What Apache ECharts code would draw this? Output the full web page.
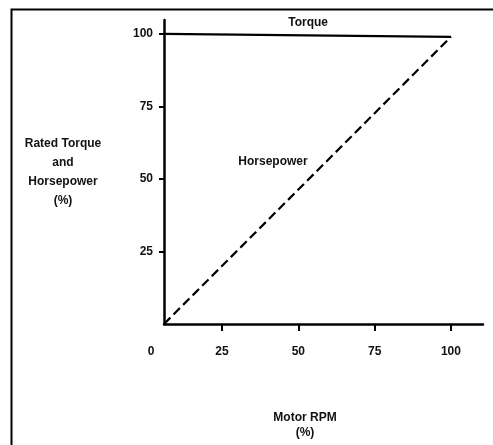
<!DOCTYPE html>
<html>
<head>
<meta charset="utf-8">
<script src="https://cdn.jsdelivr.net/npm/echarts@6/dist/echarts.min.js"></script>
<style>
html,body{margin:0;padding:0;background:#fff;}
#c{width:493px;height:445px;}
</style>
</head>
<body>
<div id="c"></div>
<script>
// Data (x: Motor RPM %, y: Rated torque / horsepower %)
var xStart = 6;            // where the drawn origin sits on the RPM tick scale
var xEnd = 100;
var torqueX = [xStart, xEnd];
var torqueY = [100, 99];
var hpX = [xStart, xEnd];
var hpY = [0, 99];
var xTicks = [25, 50, 75, 100];
var yTicks = [25, 50, 75, 100];
var xName = 'Motor RPM\n(%)';
var yName = 'Rated Torque\nand\nHorsepower\n(%)';
var torqueLabelAt = [53.2, 103.8];
var hpLabelAt = [41.7, 55.9];

var font = "'Liberation Sans', Arial, Helvetica, sans-serif";
function pairs(xs, ys){ return xs.map(function(x,i){ return [x, ys[i]]; }); }

var chart = echarts.init(document.getElementById('c'), null, {renderer:'canvas'});
chart.setOption({
  animation: false,
  backgroundColor: '#fff',
  textStyle: {fontFamily: font},
  graphic: [{
    type: 'rect', left: 9, top: 7,
    shape: {width: 600, height: 600},
    style: {fill: 'none', stroke: '#000', lineWidth: 2},
    silent: true, z: -1
  }],
  grid: {left: 164, right: 10, top: 20, bottom: 121},
  xAxis: {
    type: 'value', min: xStart, max: 110.5,
    splitLine: {show: false},
    axisLine: {lineStyle: {color: '#000', width: 2.5}},
    axisTick: {show: true, customValues: xTicks, length: 7, lineStyle: {color: '#000', width: 2}},
    axisLabel: {
      customValues: [xStart].concat(xTicks), margin: 22,
      formatter: function(v){ return v === xStart ? '{z|0}' : String(v); },
      color: '#111', fontWeight: 'bold', fontSize: 12, fontFamily: font,
      rich: {z: {padding: [0, 26, 0, 0], fontWeight: 'bold', fontSize: 12, color: '#111', fontFamily: font}}
    },
    name: xName, nameLocation: 'middle', nameGap: 86,
    nameTextStyle: {color: '#111', fontWeight: 'bold', fontSize: 12, lineHeight: 15, align: 'center', verticalAlign: 'top', padding: [0, 37, 0, 0], fontFamily: font}
  },
  yAxis: {
    type: 'value', min: 0, max: 104.8,
    splitLine: {show: false},
    axisLine: {lineStyle: {color: '#000', width: 2.5}},
    axisTick: {show: true, customValues: yTicks, length: 5, lineStyle: {color: '#000', width: 2}},
    axisLabel: {customValues: yTicks, margin: 11, color: '#111', fontWeight: 'bold', fontSize: 12, fontFamily: font},
    name: yName, nameLocation: 'middle', nameRotate: 0, nameGap: 101,
    nameTextStyle: {color: '#111', fontWeight: 'bold', fontSize: 12, lineHeight: 19, align: 'center', verticalAlign: 'middle', padding: [0, 0, 14, 0], fontFamily: font}
  },
  series: [{
    name: 'Torque', type: 'line', showSymbol: false, silent: true,
    data: pairs(torqueX, torqueY),
    lineStyle: {color: '#000', width: 2.2},
    markPoint: {
      symbol: 'circle', symbolSize: 0, silent: true,
      label: {show: true, position: 'inside', formatter: 'Torque', color: '#111', fontWeight: 'bold', fontSize: 12, fontFamily: font},
      data: [{coord: torqueLabelAt}]
    }
  }, {
    name: 'Horsepower', type: 'line', showSymbol: false, silent: true,
    data: pairs(hpX, hpY),
    lineStyle: {color: '#000', width: 2.2, type: [9, 4.5]},
    markPoint: {
      symbol: 'circle', symbolSize: 0, silent: true,
      label: {show: true, position: 'inside', formatter: 'Horsepower', color: '#111', fontWeight: 'bold', fontSize: 12, fontFamily: font},
      data: [{coord: hpLabelAt}]
    }
  }]
});
</script>
</body>
</html>
